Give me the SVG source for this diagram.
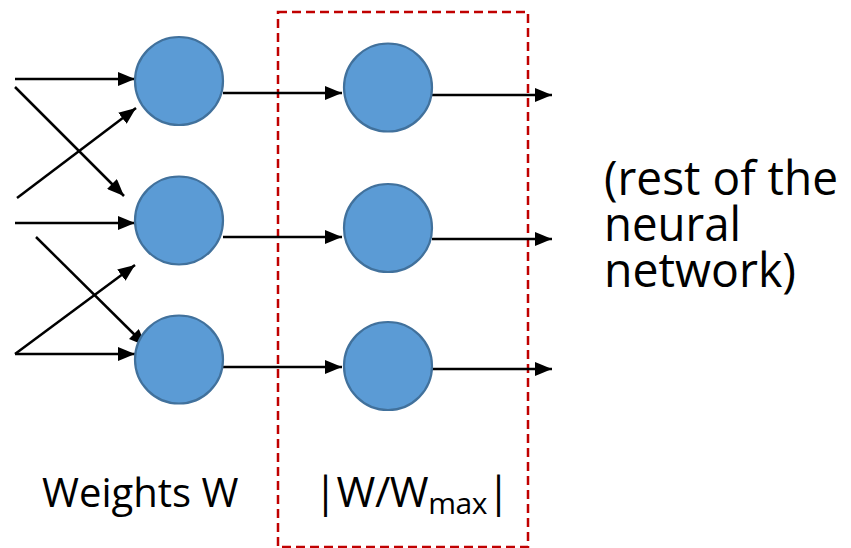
<svg xmlns="http://www.w3.org/2000/svg" width="851" height="548" viewBox="0 0 851 548">
<defs>
<marker id="ah" viewBox="0 0 10 10" refX="10" refY="5" markerWidth="17" markerHeight="14" markerUnits="userSpaceOnUse" orient="auto" preserveAspectRatio="none">
<path d="M0,0 L10,5 L0,10 Z" fill="#000"/>
</marker>
</defs>
<style>
.n{fill:#5B9BD5;stroke:#41719C;stroke-width:2.2}
.c{stroke:#000;stroke-width:2.5;fill:none}
.t{font-family:"Open Sans","Noto Sans",sans-serif;fill:#000}
</style>
<rect id="box" x="278" y="12" width="250" height="535" fill="none" stroke="#C00000" stroke-width="2.5" stroke-dasharray="9,5"/>
<g id="connectors">
<path class="c" d="M15,79 L135,79" marker-end="url(#ah)"/>
<path class="c" d="M15,87 L124,196" marker-end="url(#ah)"/>
<path class="c" d="M17,198 L136,108" marker-end="url(#ah)"/>
<path class="c" d="M15,223 L135,223" marker-end="url(#ah)"/>
<path class="c" d="M36,237 L146,346" marker-end="url(#ah)"/>
<path class="c" d="M15,354 L135,265" marker-end="url(#ah)"/>
<path class="c" d="M15,354 L135,354" marker-end="url(#ah)"/>
<path class="c" d="M223,93 L342,93" marker-end="url(#ah)"/>
<path class="c" d="M223,237 L342,237" marker-end="url(#ah)"/>
<path class="c" d="M223,367 L342,367" marker-end="url(#ah)"/>
<path class="c" d="M432,95 L552,95" marker-end="url(#ah)"/>
<path class="c" d="M432,239 L552,239" marker-end="url(#ah)"/>
<path class="c" d="M432,369 L552,369" marker-end="url(#ah)"/>
</g>
<g id="l1"><circle class="n" cx="179" cy="81" r="44"/></g>
<g id="l2"><circle class="n" cx="179" cy="220.5" r="44"/></g>
<g id="l3"><circle class="n" cx="179" cy="359.5" r="44"/></g>
<g id="r1"><circle class="n" cx="388" cy="87.5" r="44"/></g>
<g id="r2"><circle class="n" cx="388" cy="228" r="44"/></g>
<g id="r3"><circle class="n" cx="388" cy="366" r="44"/></g>
<g id="labels">
<text class="t" x="42" y="507" font-size="40">Weights W</text>
<text class="t" x="314" y="507" font-size="42" textLength="196" lengthAdjust="spacing">|W/W<tspan font-size="30" dy="7">max</tspan><tspan dy="-7">|</tspan></text>
<text class="t" font-size="47"><tspan x="604" y="195" textLength="234" lengthAdjust="spacingAndGlyphs">(rest of the</tspan><tspan x="604" y="241" textLength="137" lengthAdjust="spacingAndGlyphs">neural</tspan><tspan x="604" y="287" textLength="192" lengthAdjust="spacingAndGlyphs">network)</tspan></text>
</g>
</svg>
